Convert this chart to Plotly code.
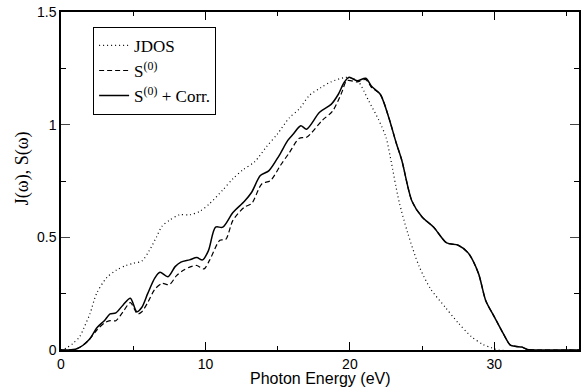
import plotly.graph_objects as go

# JDOS (dotted)
jdos_e = [0, 0.4, 0.85, 1.3, 1.6, 2.0, 2.46, 3.15, 3.84, 4.5, 5.0, 5.6, 6.1, 6.6, 7.0, 7.5, 8.2, 8.9,
          9.6, 10.3, 11.2, 11.9, 12.6, 13.4, 14.2, 15.0, 15.8, 16.5, 17.2, 18.0, 18.7, 19.7, 20.2,
          20.6, 21.3, 22.0, 22.5, 22.8, 23.4, 24.0, 24.8, 25.6, 26.6, 27.5, 28.4, 29.2, 29.8, 30.3, 36.0]
jdos_v = [0, 0.01, 0.03, 0.06, 0.1, 0.16, 0.25, 0.32, 0.355, 0.375, 0.385, 0.395, 0.44, 0.50, 0.55,
          0.575, 0.6, 0.6, 0.615, 0.65, 0.71, 0.76, 0.8, 0.835, 0.9, 0.96, 1.03, 1.07, 1.13, 1.165,
          1.19, 1.21, 1.205, 1.19, 1.106, 1.02, 0.944, 0.855, 0.66, 0.52, 0.37, 0.27, 0.19, 0.12,
          0.06, 0.025, 0.01, 0, 0]

# S^(0) (dashed)
s0_e = [0, 0.5, 1.0, 1.5, 2.0, 2.5, 3.0, 3.4, 3.8, 4.3, 4.8, 5.3, 5.6, 6.0, 6.5, 7.0, 7.5, 8.0, 8.5,
        9.0, 9.4, 9.9, 10.3, 11.0, 11.4, 11.9, 12.7, 13.2, 13.9, 14.5, 15.2, 15.8, 16.5, 17.0, 18.1,
        18.8, 19.4, 19.8, 20.5, 21.1, 21.5, 22.1, 22.7, 23.2, 23.6, 24.3, 25.0, 25.8, 26.7, 27.5,
        28.2, 28.9, 29.4, 30.0, 30.6, 31.1, 31.5, 31.9, 32.3, 33.0, 36.0]
s0_v = [0, 0, 0.003, 0.02, 0.05, 0.09, 0.12, 0.13, 0.13, 0.17, 0.21, 0.16, 0.17, 0.21, 0.27, 0.295,
        0.29, 0.33, 0.355, 0.37, 0.375, 0.36, 0.40, 0.487, 0.49, 0.575, 0.634, 0.65, 0.737, 0.752,
        0.82, 0.875, 0.94, 0.944, 1.02, 1.06, 1.137, 1.195, 1.19, 1.2, 1.165, 1.135, 1.03, 0.92,
        0.84, 0.66, 0.59, 0.545, 0.475, 0.465, 0.43, 0.34, 0.22, 0.147, 0.075, 0.022, 0.016, 0.013,
        0.002, 0, 0]

# S^(0) + Corr. (solid)
sc_e = [0, 0.5, 1.0, 1.5, 2.0, 2.5, 3.0, 3.4, 3.8, 4.3, 4.8, 5.25, 5.6, 6.0, 6.5, 6.85, 7.4, 7.9,
        8.3, 8.9, 9.4, 9.8, 10.2, 10.7, 11.2, 11.9, 12.7, 13.2, 13.8, 14.4, 15.1, 15.7, 16.1, 16.6,
        17.0, 17.9, 18.7, 19.2, 19.6, 19.95, 20.5, 21.1, 21.5, 22.1, 22.7, 23.2, 23.6, 24.3, 25.0,
        25.8, 26.7, 27.5, 28.2, 28.9, 29.4, 30.0, 30.6, 31.1, 31.5, 31.9, 32.3, 33.0, 36.0]
sc_v = [0, 0, 0.003, 0.02, 0.05, 0.1, 0.13, 0.16, 0.165, 0.2, 0.23, 0.17, 0.19, 0.25, 0.32, 0.345,
        0.325, 0.37, 0.39, 0.4, 0.41, 0.40, 0.44, 0.545, 0.545, 0.61, 0.66, 0.70, 0.774, 0.796,
        0.863, 0.93, 0.96, 0.995, 0.98, 1.055, 1.09, 1.135, 1.187, 1.21, 1.195, 1.206, 1.17, 1.135,
        1.03, 0.92, 0.84, 0.66, 0.59, 0.545, 0.475, 0.465, 0.43, 0.34, 0.22, 0.147, 0.075, 0.022,
        0.016, 0.013, 0.002, 0, 0]

legend_names = ["JDOS", "S<sup>(0)</sup>", "S<sup>(0)</sup> + Corr."]
x_ticks = [0, 10, 20, 30]
y_ticks = [0, 0.5, 1, 1.5]

fig = go.Figure()
fig.add_trace(go.Scatter(x=jdos_e, y=jdos_v, mode="lines", name=legend_names[0],
                         line=dict(color="black", width=1.2, dash="1px,3px", shape="spline", smoothing=0.8)))
fig.add_trace(go.Scatter(x=s0_e, y=s0_v, mode="lines", name=legend_names[1],
                         line=dict(color="black", width=1.2, dash="5px,3px", shape="spline", smoothing=0.8)))
fig.add_trace(go.Scatter(x=sc_e, y=sc_v, mode="lines", name=legend_names[2],
                         line=dict(color="black", width=1.5, shape="spline", smoothing=0.8)))

axis_font = dict(family="Liberation Sans, Arial", size=14, color="black")

fig.update_layout(
    width=581, height=388,
    margin=dict(l=61, r=0, t=12, b=38),
    paper_bgcolor="white", plot_bgcolor="white",
    showlegend=True,
    legend=dict(x=0.062, y=0.956, xanchor="left", yanchor="top",
                bgcolor="white", bordercolor="black", borderwidth=1,
                font=dict(family="Liberation Serif, Times New Roman", size=17, color="black"),
                tracegroupgap=0, itemwidth=30),
    xaxis=dict(range=[0, 35.86], tickmode="array", tickvals=x_ticks,
               ticktext=[str(v) for v in x_ticks],
               ticks="inside", ticklen=8, tickwidth=1, tickcolor="black",
               minor=dict(tickvals=[5, 15, 25, 35], ticks="inside", ticklen=4, tickcolor="black"),
               showline=True, linecolor="black", linewidth=1.5, mirror="ticks",
               showgrid=False, zeroline=False, tickfont=axis_font),
    yaxis=dict(range=[0, 1.5], tickmode="array", tickvals=y_ticks,
               ticktext=["0", "0.5", "1", "1.5"],
               ticks="inside", ticklen=9, tickwidth=1, tickcolor="#444",
               minor=dict(tickvals=[0.25, 0.75, 1.25], ticks="inside", ticklen=5, tickcolor="black"),
               showline=True, linecolor="black", linewidth=1.5, mirror="ticks",
               showgrid=False, zeroline=False, tickfont=axis_font),
    annotations=[
        dict(text="J(ω), S(ω)", textangle=-90, xref="paper", yref="paper",
             x=-(61 - 22) / 520, y=(350 - 168) / 338, xanchor="center", yanchor="middle",
             showarrow=False, font=dict(family="Liberation Serif, Times New Roman", size=18, color="black")),
        dict(text="Photon Energy (eV)", xref="paper", yref="paper",
             x=(322 - 61) / 520, y=(350 - 389) / 338, xanchor="center", yanchor="bottom",
             showarrow=False, font=dict(family="Liberation Sans, Arial", size=16, color="black")),
    ],
)

fig.write_html("out.html")
